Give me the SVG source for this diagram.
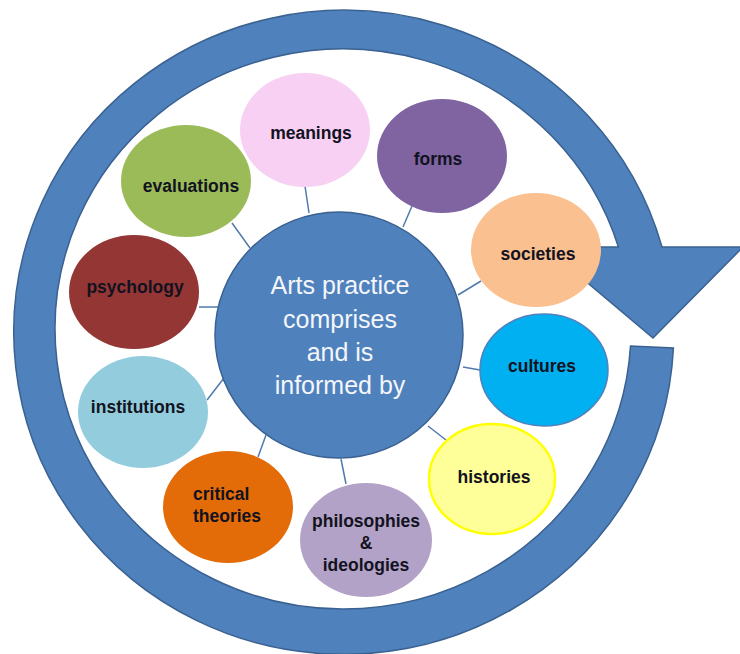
<svg xmlns="http://www.w3.org/2000/svg" width="740" height="654" viewBox="0 0 740 654">
<style>
.ring{fill:#4F81BD;stroke:#3A6190;stroke-width:1.5}
.node{stroke:none}
.lbl{font-family:"Liberation Sans",Arial,sans-serif;font-weight:bold;font-size:17.5px;fill:#121220;text-anchor:middle}
.ctr{font-family:"Liberation Sans",Arial,sans-serif;font-size:25px;fill:#F4F6FA;text-anchor:middle}
.conn line{stroke:#4F7AAE;stroke-width:1.5}
</style>
<rect width="740" height="654" fill="#FFFFFF"/>
<g id="cycle-arrow">
<path class="ring" d="M 673.4,348 A 330 322 0 1 1 662,247 L 743,247 L 653,338 L 545,247 L 618.4,247 A 288 280 0 1 0 630.5,346 Z"/>
</g>
<g id="connectors" class="conn">
<line x1="309" y1="213" x2="305" y2="186"/>
<line x1="403" y1="227" x2="412" y2="206"/>
<line x1="458" y1="295" x2="481" y2="281"/>
<line x1="463" y1="367" x2="480" y2="370"/>
<line x1="428" y1="426" x2="446" y2="440"/>
<line x1="341" y1="459" x2="346" y2="484"/>
<line x1="266" y1="435" x2="258" y2="457"/>
<line x1="224" y1="378" x2="207" y2="400"/>
<line x1="218" y1="307" x2="199" y2="307"/>
<line x1="250" y1="248" x2="232" y2="223"/>
</g>
<g id="center">
<ellipse cx="339" cy="335" rx="124" ry="123" fill="#4F81BD" stroke="#3A6190" stroke-width="1.5"/>
<text class="ctr" x="340" y="294">Arts practice</text>
<text class="ctr" x="340" y="328">comprises</text>
<text class="ctr" x="340" y="361">and is</text>
<text class="ctr" x="340" y="394">informed by</text>
</g>
<g id="meanings">
<ellipse class="node" cx="305" cy="130" rx="65" ry="57" fill="#F7D0F4"/>
<text class="lbl" x="311" y="139">meanings</text>
</g>
<g id="forms">
<ellipse class="node" cx="442" cy="156" rx="65" ry="57" fill="#8064A2"/>
<text class="lbl" x="438" y="165">forms</text>
</g>
<g id="evaluations">
<ellipse class="node" cx="186" cy="181" rx="65" ry="56" fill="#9BBB59"/>
<text class="lbl" x="191" y="192">evaluations</text>
</g>
<g id="societies">
<ellipse class="node" cx="536" cy="250" rx="65" ry="57" fill="#FAC090"/>
<text class="lbl" x="538" y="260">societies</text>
</g>
<g id="psychology">
<ellipse class="node" cx="134" cy="292" rx="65" ry="57" fill="#943634"/>
<text class="lbl" x="135" y="293">psychology</text>
</g>
<g id="cultures">
<ellipse cx="544" cy="370" rx="64" ry="56" fill="#00B0F0" stroke="#4F81BD" stroke-width="1.5"/>
<text class="lbl" x="542" y="372">cultures</text>
</g>
<g id="institutions">
<ellipse class="node" cx="143" cy="412" rx="65" ry="56" fill="#93CDDD"/>
<text class="lbl" x="138" y="413">institutions</text>
</g>
<g id="histories">
<ellipse cx="492" cy="479" rx="63" ry="55" fill="#FFFF99" stroke="#FFFF00" stroke-width="2.5"/>
<text class="lbl" x="494" y="483">histories</text>
</g>
<g id="critical-theories">
<ellipse class="node" cx="228" cy="507" rx="65" ry="56" fill="#E36C09"/>
<text class="lbl" x="193" y="500" style="text-anchor:start">critical</text>
<text class="lbl" x="193" y="522" style="text-anchor:start">theories</text>
</g>
<g id="philosophies-ideologies">
<ellipse class="node" cx="366" cy="540" rx="66" ry="57" fill="#B2A2C7"/>
<text class="lbl" x="366" y="527">philosophies</text>
<text class="lbl" x="366" y="549">&amp;</text>
<text class="lbl" x="366" y="571">ideologies</text>
</g>
</svg>
